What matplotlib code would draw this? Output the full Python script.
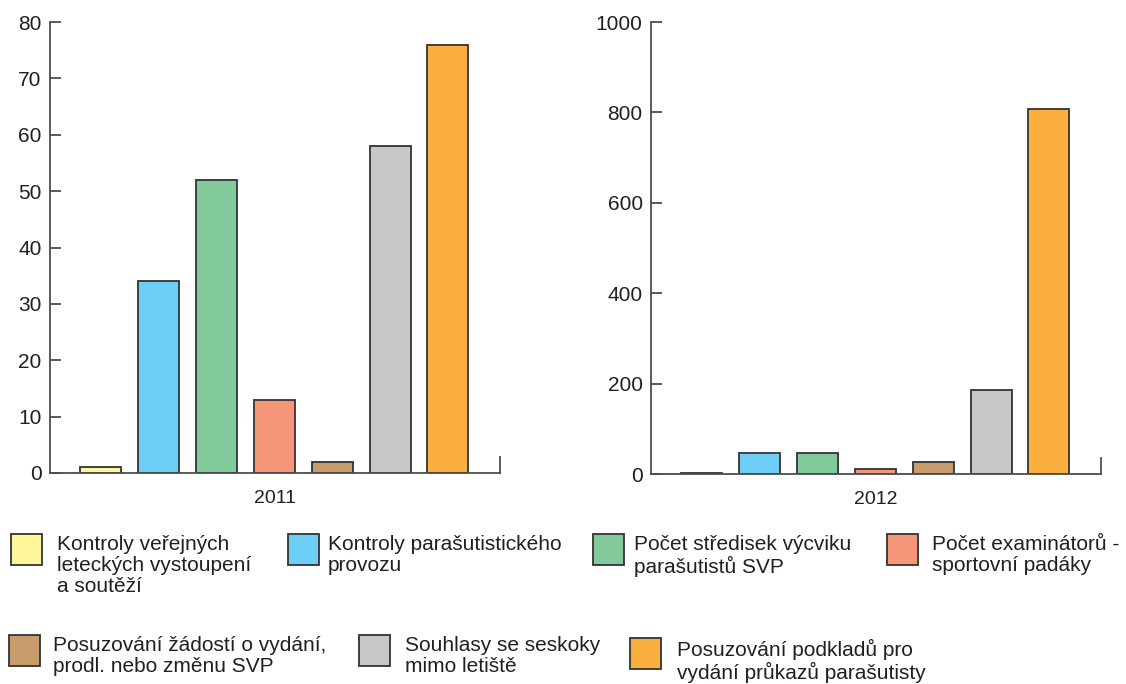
import matplotlib.pyplot as plt
from matplotlib.patches import Rectangle

plt.rcParams['font.family'] = ['Liberation Sans', 'DejaVu Sans']

categories = [
    "Kontroly veřejných\nleteckých vystoupení\na soutěží",
    "Kontroly parašutistického\nprovozu",
    "Počet středisek výcviku\nparašutistů SVP",
    "Počet examinátorů -\nsportovní padáky",
    "Posuzování žádostí o vydání,\nprodl. nebo změnu SVP",
    "Souhlasy se seskoky\nmimo letiště",
    "Posuzování podkladů pro\nvydání průkazů parašutisty",
]
colors = ['#FFF799', '#6DCFF6', '#82CA9C', '#F69679', '#C69C6D', '#C7C8CA', '#FBAF3F']

values_2011 = [1, 34, 52, 13, 2, 58, 76]
values_2012 = [2, 46, 46, 10, 27, 186, 808]
years = ['2011', '2012']
yticks_2011 = [0, 10, 20, 30, 40, 50, 60, 70, 80]
yticks_2012 = [0, 200, 400, 600, 800, 1000]

W, H = 1126, 684
fig = plt.figure(figsize=(W / 100, H / 100), dpi=100)
txt = '#231F20'
edge = '#333333'
axis_col = '#4D4D4D'


def px_axes(left, top, right, bottom):
    return fig.add_axes([left / W, 1 - bottom / H, (right - left) / W, (bottom - top) / H])


panels = [
    (px_axes(50, 22, 500, 473), values_2011, yticks_2011, years[0]),
    (px_axes(651, 22, 1101, 474), values_2012, yticks_2012, years[1]),
]

for ax, vals, yt, year in panels:
    x = range(len(vals))
    ax.bar(x, vals, width=0.71, color=colors, edgecolor=edge, linewidth=1.3)
    ax.set_xlim(-0.88, 6.9)
    ax.set_ylim(yt[0], yt[-1])
    ax.set_yticks(yt)
    ax.set_xticks([])
    ax.set_xlabel(year, fontsize=14, color=txt, labelpad=12)
    for s in ['top', 'right']:
        ax.spines[s].set_visible(False)
    for s in ['left', 'bottom']:
        ax.spines[s].set_color(axis_col)
        ax.spines[s].set_linewidth(1.3)
    ax.tick_params(axis='y', direction='in', length=8, width=1.3, color=axis_col,
                   labelsize=15, labelcolor=txt, pad=6)
    # small end cap on the right of the baseline
    ax.plot([1, 1], [0, 0.035], transform=ax.transAxes, color=axis_col, lw=1.3, clip_on=False)

# legend built by hand to match the two-row layout: (patch x, patch top, text x)
legend_pos = [
    (11, 534, 57), (288, 534, 328), (593, 534, 634), (887, 534, 932),
    (9, 635, 53), (359, 635, 405), (630, 638, 677),
]
for (px, py, tx), lab, c in zip(legend_pos, categories, colors):
    fig.add_artist(Rectangle((px / W, 1 - (py + 31) / H), 31 / W, 31 / H,
                             transform=fig.transFigure, facecolor=c,
                             edgecolor=edge, linewidth=1.3))
    fig.text(tx / W, 1 - (py + 1) / H, lab, fontsize=15, color=txt,
             va='top', ha='left', linespacing=1.12)

fig.savefig('out.png', dpi=100)
